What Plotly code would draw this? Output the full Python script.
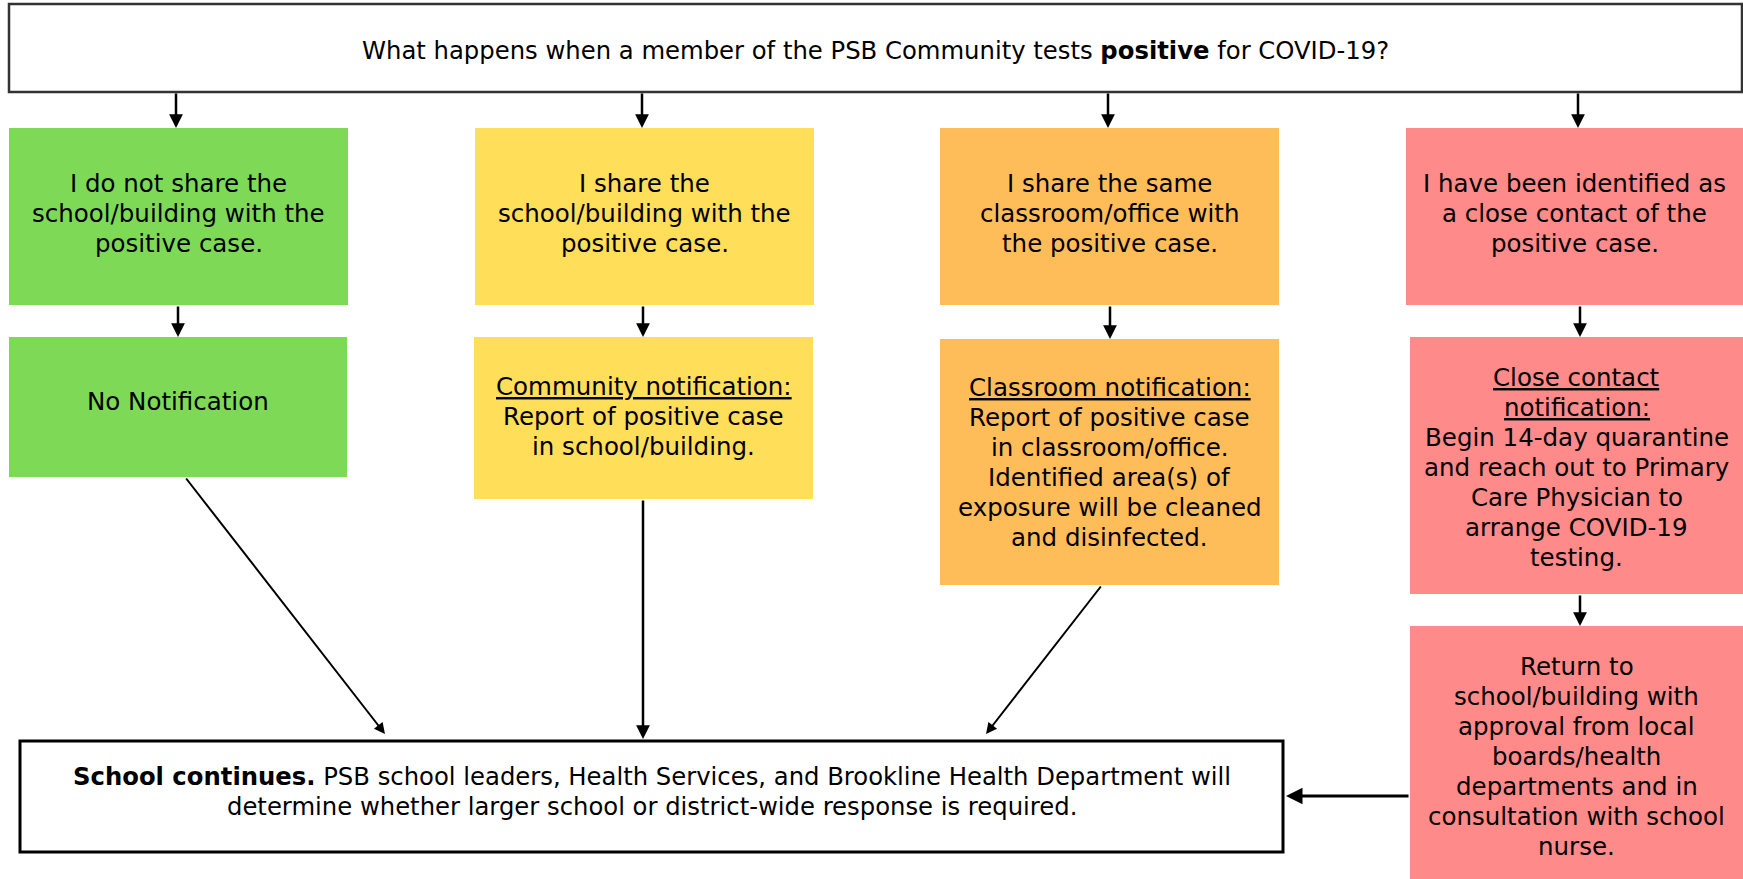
import plotly.graph_objects as go

W, H = 1743, 879
FONT = "DejaVu Sans"

# ---- content ----
title_lines = ["What happens when a member of the PSB Community tests <b>positive</b> for COVID-19?"]

U = '<span style="text-decoration:underline">{}</span>'

row1_lines = [
    ["I do not share the", "school/building with the", "positive case."],
    ["I share the", "school/building with the", "positive case."],
    ["I share the same", "classroom/office with", "the positive case."],
    ["I have been identified as", "a close contact of the", "positive case."],
]

row2_lines = [
    ["No Notification"],
    [U.format("Community notification:"), "Report of positive case", "in school/building."],
    [U.format("Classroom notification:"), "Report of positive case", "in classroom/office.",
     "Identified area(s) of", "exposure will be cleaned", "and disinfected."],
    [U.format("Close contact"), U.format("notification:"), "Begin 14-day quarantine",
     "and reach out to Primary", "Care Physician to", "arrange COVID-19", "testing."],
]

return_lines = ["Return to", "school/building with", "approval from local", "boards/health",
                "departments and in", "consultation with school", "nurse."]

bottom_lines = ["<b>School continues.</b> PSB school leaders, Health Services, and Brookline Health Department will",
                "determine whether larger school or district-wide response is required."]

colors = ["#7ED957", "#FFDE59", "#FFBD59", "#FF8A8A"]

# ---- layout geometry (pixels) ----
col_x0 = [9, 475, 940, 1406]
col_x1 = [348, 814, 1279, 1743]
arrow_x_top = [176, 642, 1108, 1578]
row1_y = (128, 305)
row2_boxes = [(9, 347, 337, 477), (474, 813, 337, 499), (940, 1279, 339, 585), (1410, 1743, 337, 594)]
row2_text_y = [401, 416, 462, 467]
row2_arrow_x = [178, 643, 1110, 1580]
red3 = (1410, 1743, 626, 879)
top_box = (9, 1742, 4, 92)
bot_box = (20, 1283, 741, 852)
LINE_H = 30
SIZE = 24.5
TITLE_SIZE = 24.3
BOTTOM_SIZE = 24.3

shapes = []
annotations = []

def rect(x0, x1, y0, y1, fill, lc=None, lw=0):
    shapes.append(dict(type="rect", xref="x", yref="y", x0=x0, x1=x1, y0=y0, y1=y1,
                       fillcolor=fill, line=dict(color=lc or fill, width=lw), layer="below"))

def text_block(x, cy, lines, size=SIZE):
    n = len(lines)
    for i, t in enumerate(lines):
        y = cy + (i - (n - 1) / 2) * LINE_H
        annotations.append(dict(x=x, y=y, xref="x", yref="y", text=t, showarrow=False,
                                xanchor="center", yanchor="middle", align="center", borderpad=0,
                                font=dict(family=FONT, size=size, color="black")))

def arrow(x0, y0, x1, y1, w=2.5):
    annotations.append(dict(x=x1, y=y1, ax=x0, ay=y0, xref="x", yref="y", axref="x", ayref="y",
                            text="", showarrow=True, arrowhead=2, arrowsize=1.1, arrowwidth=w,
                            arrowcolor="black", standoff=0, startstandoff=0))

# top box
rect(top_box[0], top_box[1], top_box[2], top_box[3], "white", "#333333", 2.5)
text_block((top_box[0] + top_box[1]) / 2, 50, title_lines, TITLE_SIZE)

# row 1
for i in range(4):
    rect(col_x0[i], col_x1[i], row1_y[0], row1_y[1], colors[i])
    text_block((col_x0[i] + col_x1[i]) / 2, 213, row1_lines[i])
    arrow(arrow_x_top[i], top_box[3], arrow_x_top[i], row1_y[0])

# row 2
for i in range(4):
    x0, x1, y0, y1 = row2_boxes[i]
    rect(x0, x1, y0, y1, colors[i])
    text_block((x0 + x1) / 2, row2_text_y[i], row2_lines[i])
    arrow(row2_arrow_x[i], row1_y[1], row2_arrow_x[i], y0)

# red box 3
rect(red3[0], red3[1], red3[2], red3[3], colors[3])
text_block((red3[0] + red3[1]) / 2, 756, return_lines)
arrow(1580, 594, 1580, 626)

# bottom box
rect(bot_box[0], bot_box[1], bot_box[2], bot_box[3], "white", "black", 3)
text_block((bot_box[0] + bot_box[1]) / 2, 791, bottom_lines, BOTTOM_SIZE)

# arrows to bottom box
arrow(185, 477, 385, 734, 2)
arrow(643, 499, 643, 739, 2.5)
arrow(1102, 585, 986, 734, 2)
arrow(1410, 796, 1286, 796, 3)

fig = go.Figure()
fig.update_layout(
    width=W, height=H,
    margin=dict(l=0, r=0, t=0, b=0),
    paper_bgcolor="white", plot_bgcolor="white",
    xaxis=dict(range=[0, W], visible=False, fixedrange=True),
    yaxis=dict(range=[H, 0], visible=False, fixedrange=True),
    shapes=shapes, annotations=annotations, showlegend=False,
)
fig.write_html("out.html", config={"displayModeBar": False},
               post_script="document.body.style.margin='0';document.body.style.overflow='hidden';")
